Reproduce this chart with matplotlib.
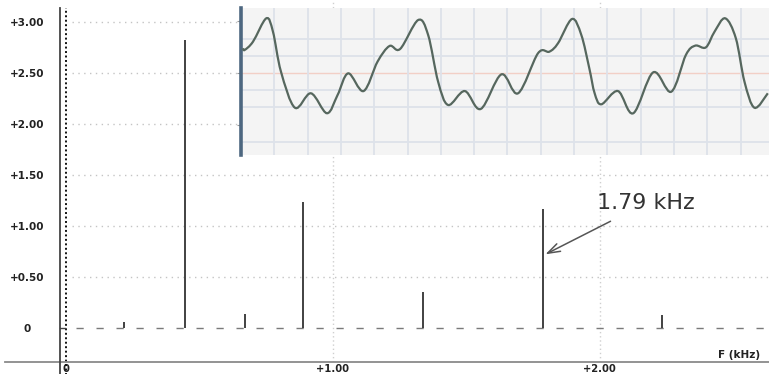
import numpy as np
import matplotlib
matplotlib.use("Agg")
import matplotlib.pyplot as plt
from matplotlib.path import Path
from matplotlib.patches import PathPatch
from matplotlib.lines import Line2D

# ---- spectrum data (kHz, amplitude) ----
freqs_khz = [0.219, 0.448, 0.672, 0.890, 1.340, 1.788, 2.234]
amplitudes = [0.06, 2.82, 0.14, 1.24, 0.35, 1.17, 0.13]

y_ticks = [0, 0.5, 1.0, 1.5, 2.0, 2.5, 3.0]
y_tick_labels = ["0", "+0.50", "+1.00", "+1.50", "+2.00", "+2.50", "+3.00"]
x_ticks = [0, 1.0, 2.0]
x_tick_labels = ["0", "+1.00", "+2.00"]

annot_text = "1.79 kHz"
annot_freq = 1.788
annot_level = 0.71

# ---- inset waveform (time in ms, value in grid divisions) ----
wave_t = [0.03, 0.055, 0.18, 0.38, 0.48, 0.60, 0.81, 1.05, 1.29, 1.45, 1.61, 1.84,
          2.05, 2.23, 2.39, 2.66, 2.81, 2.96, 3.11, 3.36, 3.60, 3.91, 4.16, 4.46,
          4.63, 4.76, 4.97, 5.11, 5.23, 5.31, 5.41, 5.66, 5.89, 6.19, 6.46, 6.68,
          6.82, 6.98, 7.11, 7.27, 7.43, 7.56, 7.71, 7.91]
wave_v = [1.44, 1.34, 1.82, 3.18, 2.40, 0.08, -2.02, -1.18, -2.34, -1.28, -0.02, -1.05,
          0.66, 1.57, 1.40, 3.08, 2.21, -0.51, -1.86, -1.05, -2.09, -0.08, -1.18, 1.15,
          1.24, 1.73, 3.14, 2.21, 0.27, -1.18, -1.82, -1.05, -2.34, 0.04, -1.09, 1.05,
          1.59, 1.49, 2.40, 3.18, 2.02, -0.51, -2.02, -1.18]
inset_grid_v = [2, 1, -1, -2, -4]
inset_grid_t = [0.5 * k for k in range(1, 16)]

W, H = 769, 374
fig = plt.figure(figsize=(W / 100, H / 100), dpi=100)

def fx(px):
    return px / W

def fy(py):
    return 1 - py / H

# main axes: px x 60..769, y 0..362
ax = fig.add_axes([fx(60), fy(362), fx(769) - fx(60), fy(0) - fy(362)])
ax.set_xlim((60 - 65.5) / 267, (769 - 65.5) / 267)
ax.set_ylim((328 - 362) / 102, 328 / 102)
for s in ax.spines.values():
    s.set_visible(False)

bold = dict(family="DejaVu Sans", weight="bold", size=7.5, color="#222222")
ax.set_yticks(y_ticks)
ax.set_yticklabels(y_tick_labels, ha="center", **bold)
ax.set_xticks(x_ticks)
ax.set_xticklabels(x_tick_labels, family="DejaVu Sans", weight="bold", size=7.2,
                   color="#222222")
ax.tick_params(axis="y", length=0, pad=24)
ax.tick_params(axis="x", length=0, pad=1.8)
for lbl in ax.get_xticklabels():
    lbl.set_x(lbl.get_position()[0])

# grid
gx0 = (72 - 60) / 709
for yv in y_ticks[1:]:
    ax.axhline(yv, xmin=gx0, color="#c4c4c4", lw=1.0, ls=(0, (1, 3.2)), zorder=1)
for xv in x_ticks[1:]:
    ax.axvline(xv, color="#cfcfcf", lw=1.0, ls=(0, (1, 2)), zorder=1)

# zero dashed line
ax.axhline(0, xmin=(76 - 60) / 709, color="#7a7a7a", lw=1.0, ls=(0, (5.2, 9.2)), zorder=2)

# spectral lines
ax.vlines(freqs_khz, 0, amplitudes, color="#333333", lw=1.3, zorder=3)

# axis lines (cross style)
fig.add_artist(Line2D([fx(5), fx(769)], [fy(362), fy(362)], color="#8a8a8a", lw=1.3))
fig.add_artist(Line2D([fx(60), fx(60)], [fy(8), fy(374)], color="#444444", lw=1.3))
ax.axvline(0, ymin=-0.05, ymax=(362 - 8) / 362, color="#111111", lw=1.4,
           ls=(0, (1, 1.3)), clip_on=False, zorder=4)
fig.add_artist(Line2D([fx(60), fx(65)], [fy(328), fy(328)], color="#444444", lw=1.0))

# x axis title
fig.text(fx(718), fy(358), "F (kHz)", ha="left", va="baseline", **bold)

# annotation
ax.annotate("", xy=(annot_freq, annot_level), xytext=((613 - 65.5) / 267, (328 - 220) / 102),
            arrowprops=dict(arrowstyle="->,head_length=0.9,head_width=0.3",
                            color="#555555", lw=1.1), zorder=5)
ax.text((646 - 65.5) / 267, (328 - 203) / 102, annot_text, ha="center", va="center",
        fontsize=16, color="#333333", family="DejaVu Sans", zorder=5)

# ---- inset ----
ia = fig.add_axes([fx(241), fy(155), fx(769) - fx(241), fy(8) - fy(155)], zorder=10)
ia.set_facecolor("#f4f4f4")
ia.set_xlim(0, (769 - 241) / 66.6)
ia.set_ylim(-(155 - 73) / 17.2, (73 - 8) / 17.2)
for k, s in ia.spines.items():
    s.set_visible(k == "left")
ia.spines["left"].set_color("#4d6780")
ia.spines["left"].set_linewidth(2.6)
ia.set_xticks([])
ia.set_yticks([-3, 0, 3])
ia.set_yticklabels([])
ia.tick_params(axis="y", length=3, color="#999999", width=0.8)
for v in inset_grid_v:
    ia.axhline(v, color="#dde2ea", lw=1.3, zorder=1)
ia.axhline(0, color="#f2cfc6", lw=1.0, zorder=1)
for t in inset_grid_t:
    ia.axvline(t, color="#dde2ea", lw=1.3, zorder=1)

# smooth curve through the read points (Catmull-Rom -> cubic Bezier)
P = np.column_stack([wave_t, wave_v])
n = len(P)
verts = [P[0]]
codes = [Path.MOVETO]
for i in range(n - 1):
    p0 = P[i - 1] if i > 0 else P[i]
    p1 = P[i]
    p2 = P[i + 1]
    p3 = P[i + 2] if i + 2 < n else P[i + 1]
    c1 = p1 + (p2 - p0) / 6.0
    c2 = p2 - (p3 - p1) / 6.0
    verts += [c1, c2, p2]
    codes += [Path.CURVE4] * 3
ia.add_patch(PathPatch(Path(verts, codes), facecolor="none", edgecolor="#56675e",
                       lw=1.6, zorder=3))

fig.savefig("out.png", dpi=100)
